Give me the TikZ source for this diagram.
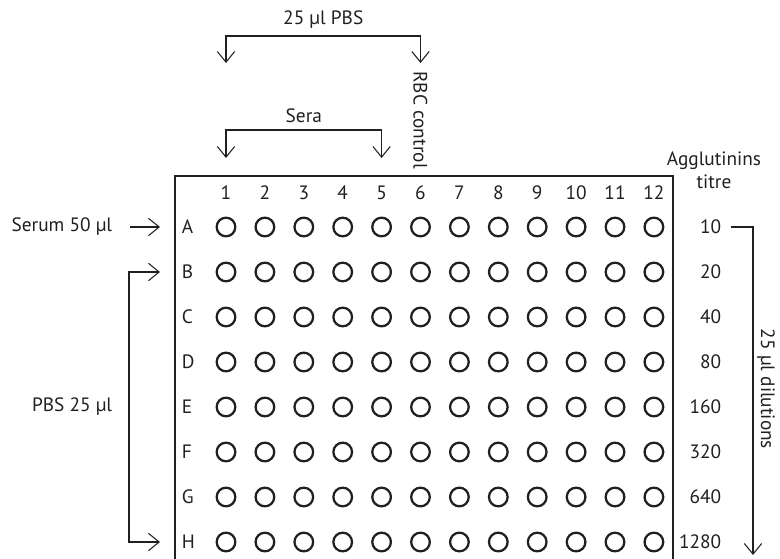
\documentclass[tikz,border=0pt]{standalone}
\usepackage{fontspec}
\setmainfont{PT Sans}
\usetikzlibrary{arrows.meta}
\definecolor{ink}{HTML}{231F20}

\begin{document}
\begin{tikzpicture}[x=0.75pt, y=-0.75pt, color=ink, line width=0.8pt,
	>={Straight Barb[length=8pt,width=13pt]},
	well/.style={circle, draw, line width=1.7pt, minimum size=14pt, inner sep=0pt},
	lbl/.style={inner sep=1pt, font=\fontsize{14.5}{15}\selectfont}]
	\useasboundingbox (0,0) rectangle (780,559);
	% rails and tips
	\coordinate (txl) at (114,0);
	\coordinate (ltip) at (160,0);
	\coordinate (lrail) at (129,0);
	\coordinate (tx) at (723,0);
	\coordinate (rrail) at (753,0);
	\coordinate (dend) at (753,555);
	\coordinate (ptop) at (0,36);
	\coordinate (ptip) at (0,63);
	\coordinate (stop) at (0,130);
	\coordinate (stip) at (0,158);
	\coordinate (rbcy) at (0,120);
	% plate
	\draw (175,559) -- (175,176) -- (673,176) -- (673,559);
	\foreach \c in {1,...,12}
		\node[lbl] (c\c) at ({226+38.9*(\c-1)},193) {\c};
	\foreach \r [count=\i from 0] in {A,B,C,D,E,F,G,H} {
		\node[lbl, anchor=west] (l\r) at (180,{227+45*\i}) {\r};
		\foreach \c in {1,...,12}
			\node[well] (w\r\c) at (c\c |- l\r) {};
	}
	% titres
	\node[lbl, align=center] (agg) at (714,170) {Agglutinins\\[2pt]titre};
	\foreach \r/\t in {A/10,B/20,C/40,D/80,E/160,F/320,G/640,H/1280}
		\node[lbl, anchor=east] (t\r) at (l\r -| tx) {\t};
	\draw[->] ([xshift=6pt]tA.east) -- (tA -| rrail) -- (dend);
	\node[lbl, rotate=-90] (dil) at (766,389) {25 µl dilutions};
	% left side
	\node[lbl, anchor=east] (serum) at (lA -| txl) {Serum 50 µl};
	\draw[->] ([xshift=12pt]serum.east) -- (lA -| ltip);
	\node[lbl, anchor=east] (pbs) at (lE -| txl) {PBS 25 µl};
	\draw[<->] (lB -| ltip) -- (lB -| lrail) -- (lH -| lrail) -- (lH -| ltip);
	% top
	\draw[<->] (c1 |- ptip) -- (c1 |- ptop)
		-- node[lbl, above=4pt] (pbstop) {25 µl PBS} (c6 |- ptop) -- (c6 |- ptip);
	\draw[<->] (c1 |- stip) -- (c1 |- stop)
		-- node[lbl, above=4pt] (sera) {Sera} (c5 |- stop) -- (c5 |- stip);
	\node[lbl, rotate=-90] (rbc) at (c6 |- rbcy) {RBC control};
\end{tikzpicture}
\end{document}
